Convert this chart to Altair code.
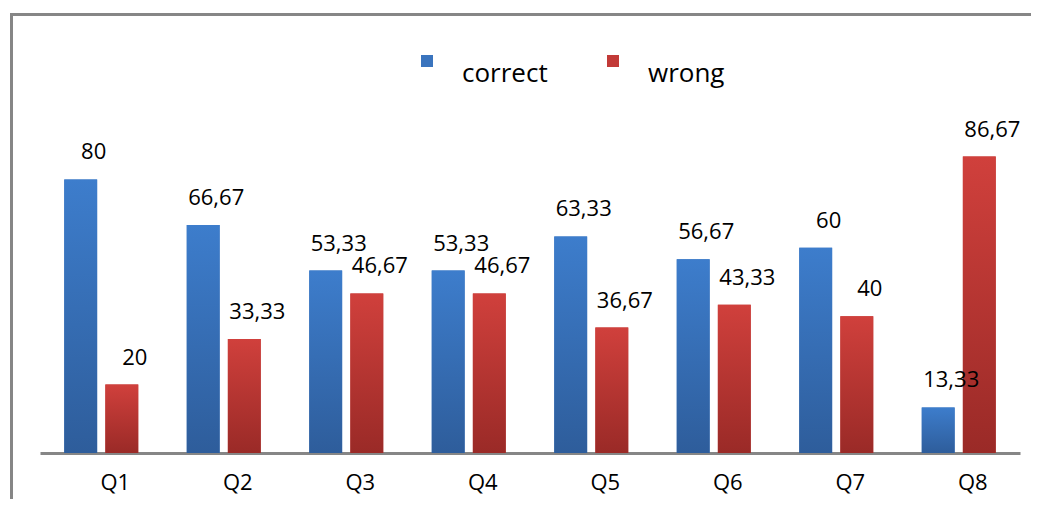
import altair as alt
import pandas as pd

questions = ["Q1", "Q2", "Q3", "Q4", "Q5", "Q6", "Q7", "Q8"]
correct = [80, 66.67, 53.33, 53.33, 63.33, 56.67, 60, 13.33]
wrong = [20, 33.33, 46.67, 46.67, 36.67, 43.33, 40, 86.67]
series_names = ["correct", "wrong"]

rows = []
for q, c, w in zip(questions, correct, wrong):
    for s, v in (("correct", c), ("wrong", w)):
        rows.append({"q": q, "series": s, "value": v,
                     "label": f"{v:g}".replace(".", ",")})
df = pd.DataFrame(rows)
qdf = pd.DataFrame({"q": questions})

FONT = "Open Sans"
GRAY = "#868686"
NBSP = "\u00a0"

x_enc = alt.X("q:N", sort=questions,
              scale=alt.Scale(paddingInner=0.396, paddingOuter=0.198),
              axis=alt.Axis(title=None, labels=False, ticks=False, tickSize=0,
                            domainColor=GRAY, domainWidth=3))
xo_enc = alt.XOffset("series:N", sort=series_names,
                     scale=alt.Scale(paddingInner=0.2, paddingOuter=0))
y_enc = alt.Y("value:Q", scale=alt.Scale(domain=[0, 100], nice=False), axis=None)

base = alt.Chart(df)

legend_bars = base.mark_bar().encode(
    x=x_enc, xOffset=xo_enc, y=y_enc,
    color=alt.Color("series:N", sort=series_names,
                    scale=alt.Scale(domain=series_names, range=["#3a74be", "#c23a37"]),
                    legend=alt.Legend(title=None, orient="none", legendX=374, legendY=-63,
                                      direction="horizontal", symbolType="square",
                                      symbolSize=144, symbolStrokeWidth=0,
                                      labelFontSize=26, labelFont=FONT, labelColor="#000",
                                      labelOffset=22, columnPadding=52, padding=0,
                                      labelBaseline="top",
                                      labelExpr=f"datum.label == 'wrong' ? '{NBSP}{NBSP}wrong' : datum.label")),
)

blue_grad = alt.Gradient(gradient="linear", x1=0, x2=0, y1=0, y2=1,
                         stops=[alt.GradientStop(color="#3d7dcc", offset=0),
                                alt.GradientStop(color="#2e5d9b", offset=1)])
red_grad = alt.Gradient(gradient="linear", x1=0, x2=0, y1=0, y2=1,
                        stops=[alt.GradientStop(color="#d0403c", offset=0),
                               alt.GradientStop(color="#9a2a27", offset=1)])

blue_bars = base.transform_filter(alt.datum.series == "correct").mark_bar(fill=blue_grad).encode(
    x=x_enc, xOffset=xo_enc, y=y_enc)
red_bars = base.transform_filter(alt.datum.series == "wrong").mark_bar(fill=red_grad).encode(
    x=x_enc, xOffset=xo_enc, y=y_enc)

labels = base.mark_text(font=FONT, fontSize=22, color="#000", baseline="alphabetic",
                        align="center", dx=13, dy=-20).encode(
    x=x_enc, xOffset=xo_enc, y=y_enc, text="label:N")

xlabels = alt.Chart(qdf).mark_text(font=FONT, fontSize=22, color="#000",
                                    baseline="alphabetic", align="center",
                                    dx=14, dy=37).encode(
    x=alt.X("q:N", sort=questions), y=alt.Y(datum=0), text="q:N")

frame_df = pd.DataFrame({"k": [0]})
top_line = alt.Chart(frame_df).mark_rule(color=GRAY, strokeWidth=3).encode(
    x=alt.value(-30), x2=alt.value(1000), y=alt.value(-96.5))
left_line = alt.Chart(frame_df).mark_rule(color=GRAY, strokeWidth=3).encode(
    x=alt.value(-28.5), y=alt.value(-98), y2=alt.value(400))

chart = alt.layer(top_line, left_line, legend_bars, blue_bars, red_bars, labels, xlabels).properties(
    width=980, height=342,
    background="white",
    autosize=alt.AutoSizeParams(type="none"),
    padding={"left": 32, "top": 103, "right": 11, "bottom": 46},
).configure_view(strokeWidth=0, stroke="transparent")

chart.save("out.html", embed_options={"renderer": "svg", "actions": False})
